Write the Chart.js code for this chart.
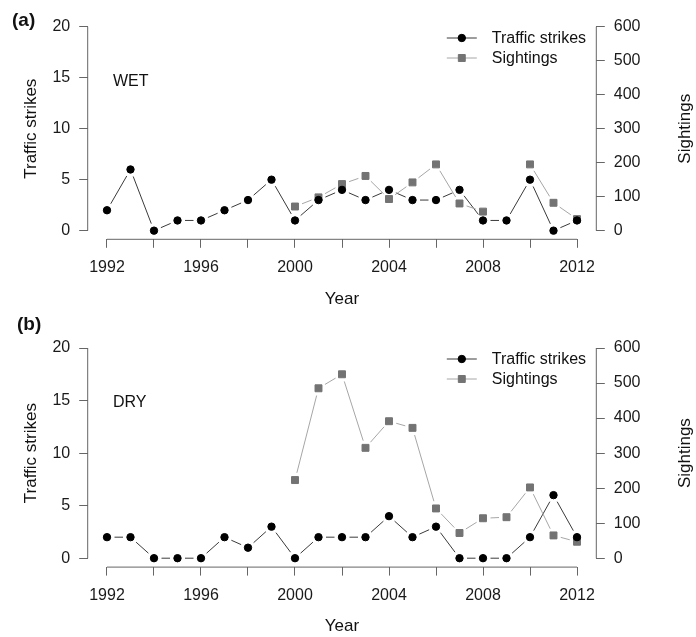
<!DOCTYPE html>
<html><head><meta charset="utf-8">
<script src="https://cdn.jsdelivr.net/npm/chart.js@4.4.1/dist/chart.umd.min.js"></script>
<style>
html,body{margin:0;padding:0;background:#fff;overflow:hidden}
#wrap{position:relative;width:696px;height:637px;background:#fff}
.panel{position:absolute;left:0;width:696px}
canvas{display:block}
</style></head><body>
<div id="wrap">
<div class="panel" style="top:0;height:310px"><canvas id="cA" width="696" height="310"></canvas></div>
<div class="panel" style="top:310px;height:327px"><canvas id="cB" width="696" height="327"></canvas></div>
</div>
<script>
// ---- data ----
const years = [1992,1993,1994,1995,1996,1997,1998,1999,2000,2001,2002,2003,2004,2005,2006,2007,2008,2009,2010,2011,2012];
const wetStrikes   = [2,6,0,1,1,2,3,5,1,3,4,3,4,3,3,4,1,1,5,0,1];
const wetSightings = [null,null,null,null,null,null,null,null,71,98,137,161,93,142,195,80,56,null,195,82,34];
const dryStrikes   = [2,2,0,0,0,2,1,3,0,2,2,2,4,2,3,0,0,0,2,6,2];
const drySightings = [null,null,null,null,null,null,null,null,223,485,525,315,391,372,142,72,114,117,202,65,47];
const strikeTicks   = [0,5,10,15,20];
const sightingTicks = [0,100,200,300,400,500,600];
const yearTicks  = [1992,1994,1996,1998,2000,2002,2004,2006,2008,2010,2012];
const yearLabels = [1992,1996,2000,2004,2008,2012];

Chart.defaults.font.family = "'Liberation Sans', Arial, Helvetica, sans-serif";
Chart.defaults.font.size = 16;
Chart.defaults.color = '#1a1a1a';

const AXIS_COLOR = '#666';

// line segments with gaps around points (R type="b")
const gappedLines = {
  id:'gappedLines',
  beforeDatasetsDraw(chart){
    const ctx = chart.ctx;
    chart.data.datasets.forEach((ds,di)=>{
      const pts = chart.getDatasetMeta(di).data;
      ctx.save();
      ctx.strokeStyle = ds.borderColor; ctx.lineWidth = ds.borderWidth;
      for(let i=0;i<pts.length-1;i++){
        const a=pts[i], b=pts[i+1];
        if(a.skip||b.skip) continue;
        const dx=b.x-a.x, dy=b.y-a.y, d=Math.hypot(dx,dy), g=ds.gap;
        if(d<=2*g) continue;
        const ux=dx/d, uy=dy/d;
        ctx.beginPath(); ctx.moveTo(a.x+ux*g,a.y+uy*g); ctx.lineTo(b.x-ux*g,b.y-uy*g); ctx.stroke();
      }
      ctx.restore();
    });
  }
};

// detached R-style axis lines spanning first..last tick
const axisLines = {
  id:'axisLines',
  afterDraw(chart){
    const ctx=chart.ctx, ca=chart.chartArea, s=chart.scales;
    ctx.save(); ctx.strokeStyle=AXIS_COLOR; ctx.lineWidth=1;
    const xs=s.x.getPixelForValue(yearTicks[0]), xe=s.x.getPixelForValue(yearTicks[yearTicks.length-1]);
    ctx.beginPath(); ctx.moveTo(xs, ca.bottom+0.5); ctx.lineTo(xe, ca.bottom+0.5); ctx.stroke();
    const y0=s.y.getPixelForValue(strikeTicks[0]), y1=s.y.getPixelForValue(strikeTicks[strikeTicks.length-1]);
    ctx.beginPath(); ctx.moveTo(ca.left-0.5, y0); ctx.lineTo(ca.left-0.5, y1); ctx.stroke();
    const r0=s.y2.getPixelForValue(sightingTicks[0]), r1=s.y2.getPixelForValue(sightingTicks[sightingTicks.length-1]);
    ctx.beginPath(); ctx.moveTo(ca.right+0.5, r0); ctx.lineTo(ca.right+0.5, r1); ctx.stroke();
    ctx.restore();
  }
};

// legend and panel text
const panelText = {
  id:'panelText',
  afterDraw(chart, args, opts){
    const ctx=chart.ctx, ca=chart.chartArea;
    ctx.save();
    // legend
    chart.data.datasets.forEach((ds,i)=>{
      const y = ca.top + 19.4 + i*20;
      const xm = ca.right - 134;
      ctx.strokeStyle=ds.borderColor; ctx.lineWidth=ds.borderWidth;
      ctx.beginPath(); ctx.moveTo(xm-15,y); ctx.lineTo(xm+15,y); ctx.stroke();
      ctx.fillStyle=ds.pointBackgroundColor; ctx.strokeStyle=ds.pointBorderColor;
      Chart.helpers.drawPoint(ctx,{pointStyle:ds.pointStyle,radius:ds.pointRadius,borderWidth:ds.pointBorderWidth,rotation:0},xm,y);
      ctx.fillStyle='#111'; ctx.font="16px 'Liberation Sans', Arial, sans-serif";
      ctx.textAlign='left'; ctx.textBaseline='middle';
      ctx.fillText(ds.label, xm+30, y+1);
    });
    // season label
    ctx.fillStyle='#111'; ctx.font="16px 'Liberation Sans', Arial, sans-serif";
    ctx.textAlign='left'; ctx.textBaseline='middle';
    ctx.fillText(opts.season, 113, ca.top+62.5);
    // panel tag
    ctx.font="bold 19px 'Liberation Sans', Arial, sans-serif";
    ctx.fillText(opts.tag, opts.tagX, opts.tagY);
    // right axis title (reads bottom to top)
    ctx.font="17px 'Liberation Sans', Arial, sans-serif";
    ctx.textAlign='center';
    ctx.translate(685,(ca.top+ca.bottom)/2);
    ctx.rotate(-Math.PI/2);
    ctx.fillText('Sightings',0,0);
    ctx.restore();
  }
};

function makeChart(id, strikes, sightings, season, tag, P){
  const gridOpts = {drawOnChartArea:false, tickLength:9, color:AXIS_COLOR, tickColor:AXIS_COLOR};
  return new Chart(document.getElementById(id), {
    type:'line',
    data:{datasets:[
      {label:'Traffic strikes', data:years.map((x,i)=>({x, y:strikes[i]})), yAxisID:'y', showLine:false,
       borderColor:'#3a3a3a', borderWidth:1, pointStyle:'circle', pointRadius:3.7,
       pointBackgroundColor:'#000', pointBorderColor:'#000', pointBorderWidth:1, gap:7.5},
      {label:'Sightings', data:years.map((x,i)=>({x, y:sightings[i]})), yAxisID:'y2', showLine:false,
       borderColor:'#a6a6a6', borderWidth:1, pointStyle:'rect', pointRadius:4.9,
       pointBackgroundColor:'#737373', pointBorderColor:'#737373', pointBorderWidth:1, gap:7.5}
    ]},
    options:{
      responsive:false, animation:false, devicePixelRatio:1,
      layout:{padding:{top:P.top,left:0,right:0,bottom:0}},
      plugins:{legend:{display:false}, tooltip:{enabled:false},
        panelText:{season, tag, tagX:P.tagX, tagY:P.tagY}},
      scales:{
        x:{type:'linear', min:1991.2, max:2012.8,
           afterBuildTicks:s=>{s.ticks=yearTicks.map(v=>({value:v}));},
           afterFit:s=>{s.height=P.H-P.bottom;},
           grid:gridOpts, border:{display:false},
           ticks:{autoSkip:false, maxRotation:0, padding:10, callback:v=>yearLabels.includes(v)?String(v):''},
           title:{display:true, text:'Year', font:{size:17}, color:'#111', padding:{top:P.yearPad,bottom:0}}},
        y:{type:'linear', position:'left', min:-0.8, max:20.8,
           afterBuildTicks:s=>{s.ticks=strikeTicks.map(v=>({value:v}));},
           afterFit:s=>{s.width=88.2;},
           grid:gridOpts, border:{display:false},
           ticks:{padding:9},
           title:{display:true, text:'Traffic strikes', font:{size:17}, color:'#111', padding:{top:20.8,bottom:0}}},
        y2:{type:'linear', position:'right', min:-24, max:624,
           afterBuildTicks:s=>{s.ticks=sightingTicks.map(v=>({value:v}));},
           afterFit:s=>{s.width=696-595.8;},
           grid:gridOpts, border:{display:false},
           ticks:{padding:9}}
      }
    },
    plugins:[gappedLines, axisLines, panelText]
  });
}

makeChart('cA', wetStrikes, wetSightings, 'WET', '(a)', {H:310, top:10.6, bottom:238.8, yearPad:1.8, tagX:12, tagY:21});
makeChart('cB', dryStrikes, drySightings, 'DRY', '(b)', {H:327, top:29.6, bottom:256.6, yearPad:0, tagX:17, tagY:15});
</script>
</body></html>
